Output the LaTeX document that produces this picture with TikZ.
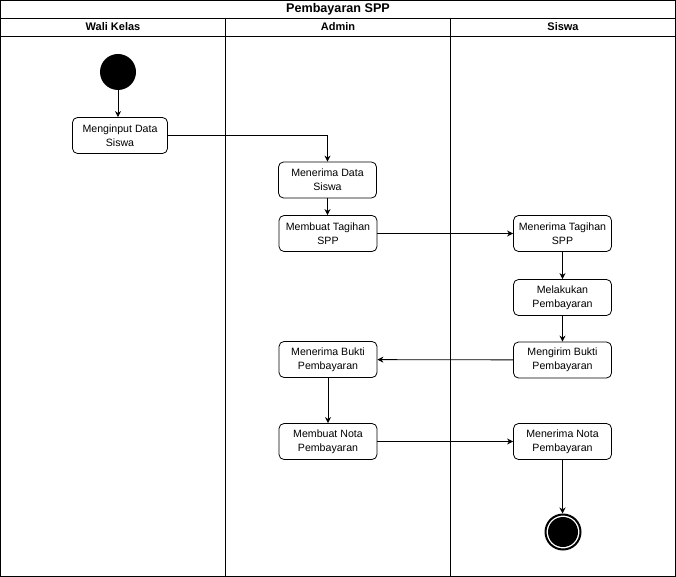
\documentclass[tikz,border=0pt]{standalone}
\usepackage{fontspec}
\setmainfont{Liberation Sans}
\usetikzlibrary{arrows.meta}

\begin{document}
\begin{tikzpicture}[x=1pt,y=-1pt,line width=0.8pt,
  act/.style={draw, rounded corners=5pt, minimum width=98pt, minimum height=36pt, inner sep=1pt, align=center, font=\fontsize{10.6}{14}\selectfont},
  lane/.style={font=\bfseries\fontsize{11}{13}\selectfont},
  flow/.style={-{Stealth[length=6pt,width=6pt]}}]
\useasboundingbox (0,0) rectangle (676,577);
% swimlanes
\draw [line width=1pt] (0.5,0.5) rectangle (675.5,576.5);
\draw (0.5,18) -- (675.5,18);
\draw (0.5,36) -- (675.5,36);
\draw (225.5,18) -- (225.5,576.5);
\draw (450.5,18) -- (450.5,576.5);
\node [lane, font=\bfseries\fontsize{12.6}{14}\selectfont] (title) at (338,9) {Pembayaran SPP};
\foreach \x/\name in {113/Wali Kelas,338/Admin,563/Siswa}{
 \node [lane] at (\x,27) {\name};
 }

% activities
\node [circle, fill, minimum size=36pt, inner sep=0pt] (start) at (118,72) {};
\node [act, minimum width=95pt] (input) at (120,135.5) {Menginput Data\\Siswa};
\node [act] (terimaData) at (327.5,180) {Menerima Data\\Siswa};
\node [act] (tagihan) at (328,233.5) {Membuat Tagihan\\SPP};
\node [act] (terimaTagihan) at (562.5,233.5) {Menerima Tagihan\\SPP};
\node [act] (bayar) at (562.5,297.5) {Melakukan\\Pembayaran};
\node [act] (kirimBukti) at (562.5,360) {Mengirim Bukti\\Pembayaran};
\node [act] (terimaBukti) at (328,359.5) {Menerima Bukti\\Pembayaran};
\node [act] (nota) at (328,441.5) {Membuat Nota\\Pembayaran};
\node [act] (terimaNota) at (562.5,441.5) {Menerima Nota\\Pembayaran};
\node [circle, draw, line width=2pt, minimum size=35pt, inner sep=0pt] (finish) at (563,532) {};
\fill (finish.center) circle (15);

% flows
\draw [flow] (start) -- (start |- input.north);
\draw [flow] (input.east) -| (terimaData.north);
\draw [flow] (terimaData) -- (terimaData |- tagihan.north);
\draw [flow] (tagihan) -- (terimaTagihan);
\draw [flow] (terimaTagihan) -- (bayar);
\draw [flow] (bayar) -- (kirimBukti);
\draw [flow] (kirimBukti) -- (terimaBukti);
\draw [flow] (terimaBukti) -- (nota);
\draw [flow] (nota) -- (terimaNota);
\draw [flow] (terimaNota) -- (terimaNota |- finish.north);
\end{tikzpicture}
\end{document}
